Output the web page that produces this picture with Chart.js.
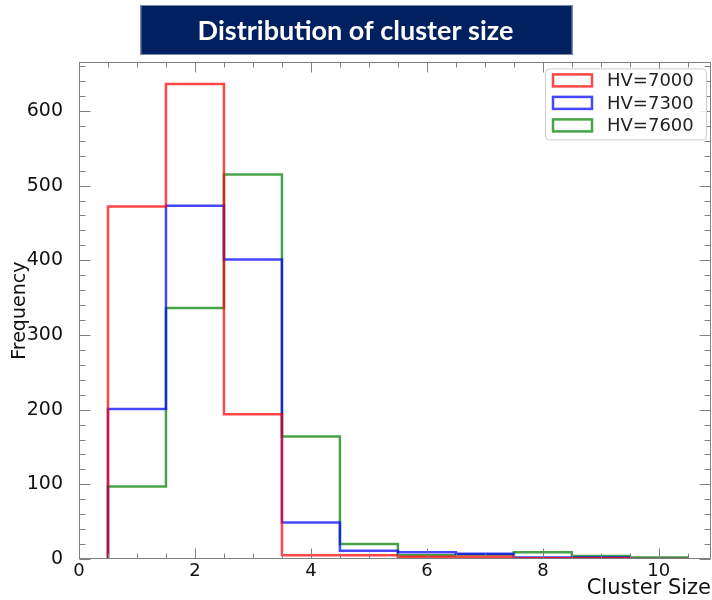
<!DOCTYPE html>
<html><head><meta charset="utf-8">
<script src="https://cdn.jsdelivr.net/npm/chart.js@4"></script>
<style>html,body{margin:0;padding:0;background:#fff;}</style>
</head><body>
<canvas id="c" width="712" height="600"></canvas>
<script>
const titleText = 'Distribution of cluster size';
const xLabel = 'Cluster Size';
const yLabel = 'Frequency';
const clusterSizes = [1, 2, 3, 4, 5, 6, 7, 8, 9, 10];
const seriesLabels = ['HV=7000', 'HV=7300', 'HV=7600'];
const hv7000 = [472, 636, 194, 5, 5, 3, 3, 1, 1, 0];
const hv7300 = [201, 473, 401, 49, 11, 9, 7, 2, 2, 0];
const hv7600 = [97, 336, 515, 164, 20, 5, 6, 9, 4, 2];
const xTicks = [0, 2, 4, 6, 8, 10];
const yTicks = [0, 100, 200, 300, 400, 500, 600];
const seriesColors = ['rgba(255,0,0,0.72)', 'rgba(0,0,255,0.72)', 'rgba(0,128,0,0.72)'];
const MPL_FONT = "'DejaVu Sans', sans-serif";

function stepPoints(counts) {
  const n = clusterSizes.length;
  const pts = [{x: clusterSizes[0] - 0.5, y: 0}];
  counts.forEach((v, i) => pts.push({x: clusterSizes[i] - 0.5, y: v}));
  pts.push({x: clusterSizes[n - 1] + 0.5, y: 0});
  return pts;
}
const seriesValues = [hv7000, hv7300, hv7600];

const titleBox = {
  id: 'titleBox',
  beforeDraw(chart) {
    const {ctx} = chart;
    const tb = chart.titleBlock;
    const cx = (tb.left + tb.right) / 2 + 1;
    ctx.save();
    ctx.fillStyle = '#002060';
    ctx.fillRect(cx - 216, tb.top + 5, 432, 50);
    ctx.strokeStyle = '#7d8aa3';
    ctx.lineWidth = 1;
    ctx.strokeRect(cx - 216 + 0.5, tb.top + 5.5, 431, 49);
    ctx.restore();
  }
};

const frameAndLegend = {
  id: 'frameAndLegend',
  afterDraw(chart) {
    const {ctx, chartArea: a} = chart;
    const xs = chart.scales.x, ys = chart.scales.y;
    ctx.save();
    ctx.strokeStyle = '#808080';
    ctx.lineWidth = 1;
    const L = Math.round(a.left) + 0.5, R = Math.round(a.right) - 0.5;
    const T = Math.round(a.top) + 0.5, B = Math.round(a.bottom) - 0.5;
    ctx.strokeRect(L, T, R - L, B - T);
    ctx.beginPath();
    const xMinor = [];
    for (let v = 0; v <= xs.max + 1e-9; v += 0.5) xMinor.push(v);
    xMinor.forEach(v => {
      const len = xTicks.includes(v) ? 10 : 5;
      const p = Math.round(xs.getPixelForValue(v)) + 0.5;
      ctx.moveTo(p, B); ctx.lineTo(p, B - len);
      ctx.moveTo(p, T); ctx.lineTo(p, T + len);
    });
    for (let v = 0; v <= ys.max + 1e-9; v += 20) {
      const len = yTicks.includes(v) ? 11 : 6;
      const p = Math.round(ys.getPixelForValue(v)) + 0.5;
      ctx.moveTo(L, p); ctx.lineTo(L + len, p);
      ctx.moveTo(R, p); ctx.lineTo(R - len, p);
    }
    ctx.stroke();

    // legend inside plot, top-right
    const bw = 161, bh = 71;
    const bx = a.right - 5 - bw, by = a.top + 6;
    ctx.beginPath();
    ctx.roundRect(bx + 0.5, by + 0.5, bw, bh, 4);
    ctx.fillStyle = 'rgba(255,255,255,0.85)';
    ctx.fill();
    ctx.strokeStyle = '#cccccc';
    ctx.stroke();
    ctx.font = '18px ' + MPL_FONT;
    ctx.textBaseline = 'middle';
    ctx.textAlign = 'left';
    chart.data.datasets.forEach((ds, i) => {
      const cy = by + 12 + i * 22.5;
      ctx.strokeStyle = ds.borderColor;
      ctx.lineWidth = 2.5;
      ctx.strokeRect(bx + 8, cy - 6, 39, 12);
      ctx.fillStyle = '#222';
      ctx.fillText(ds.label, bx + 62, cy + 1);
    });
    ctx.restore();
  }
};

new Chart(document.getElementById('c'), {
  type: 'line',
  data: {
    datasets: seriesValues.map((vals, i) => ({
      label: seriesLabels[i],
      data: stepPoints(vals),
      borderColor: seriesColors[i],
      backgroundColor: seriesColors[i],
      borderWidth: 2.5,
      stepped: 'before',
      pointRadius: 0,
      fill: false,
      tension: 0,
      borderJoinStyle: 'miter'
    }))
  },
  options: {
    responsive: false,
    animation: false,
    devicePixelRatio: 1,
    layout: {padding: {left: 0, right: 1, top: 0, bottom: 0}},
    plugins: {
      legend: {display: false},
      tooltip: {enabled: false},
      title: {
        display: true,
        text: titleText,
        color: '#ffffff',
        font: {family: "'Lato', sans-serif", weight: 'bold', size: 27},
        padding: {top: 15, bottom: 15}
      }
    },
    scales: {
      x: {
        type: 'linear',
        min: 0,
        max: 10.9,
        grid: {display: false, drawTicks: false},
        border: {display: false},
        ticks: {font: {family: MPL_FONT, size: 18}, color: '#111', padding: 2, maxRotation: 0},
        afterBuildTicks: s => { s.ticks = xTicks.map(v => ({value: v})); },
        afterFit: s => { s.height = 41; },
        title: {display: true, text: xLabel, align: 'end', color: '#111',
                font: {family: MPL_FONT, size: 21}, padding: {top: 0, bottom: -1}}
      },
      y: {
        type: 'linear',
        min: 0,
        max: 665,
        grid: {display: false, drawTicks: false},
        border: {display: false},
        ticks: {font: {family: MPL_FONT, size: 19}, color: '#111', padding: 16},
        afterBuildTicks: s => { s.ticks = yTicks.map(v => ({value: v})); },
        afterFit: s => { s.width = 79; },
        title: {display: true, text: yLabel, color: '#111',
                font: {family: MPL_FONT, size: 19}, padding: {top: 9, bottom: 0}}
      }
    }
  },
  plugins: [titleBox, frameAndLegend]
});
</script>
</body></html>
